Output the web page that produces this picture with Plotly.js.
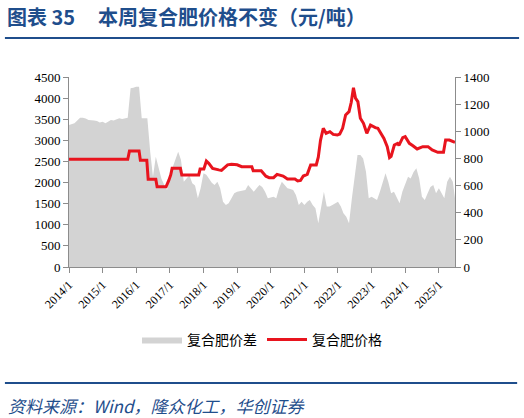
<!DOCTYPE html>
<html>
<head>
<meta charset="utf-8">
<script src="https://cdn.plot.ly/plotly-3.0.1.min.js"></script>
<style>html,body{margin:0;padding:0;background:#fff;}#chart{width:524px;height:418px;}</style>
</head>
<body>
<div id="chart"></div>
<script>
// 复合肥价差 (right axis), monthly
const spreadDates = ["2014-01","2014-02","2014-03","2014-04","2014-05","2014-06","2014-07","2014-08","2014-09","2014-10","2014-11","2014-12",
"2015-01","2015-02","2015-03","2015-04","2015-05","2015-06","2015-07","2015-08","2015-09","2015-10","2015-11","2015-12",
"2016-01","2016-02","2016-03","2016-04","2016-05","2016-06","2016-07","2016-08","2016-09","2016-10","2016-11","2016-12",
"2017-01","2017-02","2017-03","2017-04","2017-05","2017-06","2017-07","2017-08","2017-09","2017-10","2017-11","2017-12",
"2018-01","2018-02","2018-03","2018-04","2018-05","2018-06","2018-07","2018-08","2018-09","2018-10","2018-11","2018-12",
"2019-01","2019-02","2019-03","2019-04","2019-05","2019-06","2019-07","2019-08","2019-09","2019-10","2019-11","2019-12",
"2020-01","2020-02","2020-03","2020-04","2020-05","2020-06","2020-07","2020-08","2020-09","2020-10","2020-11","2020-12",
"2021-01","2021-02","2021-03","2021-04","2021-05","2021-06","2021-07","2021-08","2021-09","2021-10","2021-11","2021-12",
"2022-01","2022-02","2022-03","2022-04","2022-05","2022-06","2022-07","2022-08","2022-09","2022-10","2022-11","2022-12",
"2023-01","2023-02","2023-03","2023-04","2023-05","2023-06","2023-07","2023-08","2023-09","2023-10","2023-11","2023-12",
"2024-01","2024-02","2024-03","2024-04","2024-05","2024-06","2024-07","2024-08","2024-09","2024-10","2024-11","2024-12",
"2025-01","2025-02","2025-03","2025-04","2025-05","2025-06","2025-06-25"];
const spreadValues = [1046,1050,1059,1080,1100,1100,1095,1083,1083,1080,1075,1065,
1070,1059,1070,1083,1080,1090,1096,1090,1096,1100,1317,1320,
1329,1329,1096,1096,1096,850,665,813,740,650,604,567,
678,740,780,850,790,629,653,676,617,600,506,580,
690,680,653,620,604,629,580,481,457,470,506,543,
555,560,560,567,604,580,555,580,604,590,555,506,
512,518,506,580,629,604,580,575,567,530,457,481,
457,480,493,457,432,322,445,555,445,445,457,470,
481,445,396,371,322,506,678,825,825,800,702,506,
518,505,493,555,629,690,629,543,555,518,469,555,
610,665,653,700,727,653,518,493,543,590,604,543,
580,543,506,629,665,629,506];

// 复合肥价格 (left axis)
const priceDates = ["2014-01-01","2015-10-01","2015-10-20","2016-02-01","2016-02-15","2016-04-25","2016-05-10","2016-08-01","2016-08-15","2016-11-20","2016-12-20","2017-01-10","2017-01-25","2017-04-25","2017-05-10","2017-11-10","2017-11-25","2018-01-05","2018-02-01","2018-03-01","2018-04-10","2018-05-15","2018-06-15","2018-07-15","2018-08-15","2018-09-20","2018-11-01","2019-01-01","2019-02-20","2019-06-10","2019-06-25","2019-09-20","2019-11-10","2019-12-15","2020-02-01","2020-03-10","2020-05-15","2020-07-01","2020-09-20","2020-10-20","2020-11-20","2020-12-20","2021-02-01","2021-03-10","2021-05-10","2021-06-01","2021-06-25","2021-07-25","2021-08-25","2021-10-05","2021-11-10","2021-12-25","2022-01-20","2022-02-20","2022-03-25","2022-05-01","2022-05-25","2022-06-18","2022-07-10","2022-08-05","2022-09-01","2022-10-05","2022-11-10","2022-12-20","2023-02-10","2023-03-10","2023-05-15","2023-06-20","2023-07-15","2023-08-01","2023-09-05","2023-10-10","2023-10-25","2023-12-05","2024-01-01","2024-02-15","2024-03-25","2024-05-10","2024-07-10","2024-09-05","2024-10-20","2024-12-20","2025-02-20","2025-03-15","2025-04-25","2025-06-25"];
const priceValues = [2550,2550,2750,2750,2530,2530,2080,2080,1900,1900,2050,2180,2337,2337,2180,2180,2320,2320,2510,2450,2337,2310,2300,2290,2340,2420,2432,2420,2376,2376,2281,2281,2150,2116,2116,2195,2155,2084,2084,2037,2050,2155,2195,2416,2416,2600,3000,3284,3166,3205,3140,3126,3150,3284,3600,3679,3900,4247,4000,3916,3522,3403,3166,3363,3300,3284,3047,2850,2590,2620,2890,2929,2880,3063,3087,2929,2873,2795,2850,2850,2771,2716,2716,3008,3008,2953];

const xTickVals = ["2014-01-01","2015-01-01","2016-01-01","2017-01-01","2018-01-01","2019-01-01","2020-01-01","2021-01-01","2022-01-01","2023-01-01","2024-01-01","2025-01-01"];
const xTickText = ["2014/1","2015/1","2016/1","2017/1","2018/1","2019/1","2020/1","2021/1","2022/1","2023/1","2024/1","2025/1"];

const seriesNames = ["复合肥价差","复合肥价格"];
const titleLabel = "图表 35";
const titleText = "本周复合肥价格不变（元/吨）";
const sourceText = "资料来源：Wind，隆众化工，华创证券";

const blue = "#1f4e8c";
const axisGray = "#8c8c8c";
const serif = "'Liberation Serif','Times New Roman',serif";
const cjk = "'Noto Sans CJK SC','Liberation Serif',serif";

const traces = [
  {x: spreadDates, y: spreadValues, name: seriesNames[0], type: "scatter", mode: "lines",
   fill: "tozeroy", fillcolor: "#d3d3d3", line: {width: 0, color: "#d3d3d3"}, yaxis: "y"},
  {x: priceDates, y: priceValues, name: seriesNames[1], type: "scatter", mode: "lines",
   line: {width: 3, color: "#e8141e"}, yaxis: "y2"}
];

const axisCommon = {showgrid: false, zeroline: false, showline: true, linecolor: axisGray, linewidth: 1,
  ticks: "outside", ticklen: 5, tickcolor: axisGray, tickfont: {family: serif, size: 13, color: "#000"}};

const layout = {
  width: 524, height: 418,
  margin: {l: 69, r: 69, t: 77, b: 151},
  paper_bgcolor: "#fff", plot_bgcolor: "#fff",
  showlegend: true,
  legend: {orientation: "h", x: 0.5, xanchor: "center", y: -0.384, yanchor: "middle",
    font: {family: cjk, size: 14, color: "#000"}, itemwidth: 40, traceorder: "normal"},
  xaxis: Object.assign({}, axisCommon, {type: "date", range: ["2014-01-01", "2025-06-25"],
    tickvals: xTickVals, ticktext: xTickText, tickangle: -45,
    tickfont: {family: serif, size: 12, color: "#000"}}),
  yaxis: Object.assign({}, axisCommon, {side: "right", range: [0, 1400], dtick: 200, tick0: 0}),
  yaxis2: Object.assign({}, axisCommon, {side: "left", overlaying: "y", range: [0, 4500], dtick: 500, tick0: 0}),
  shapes: [
    {type: "line", xref: "paper", yref: "paper", x0: -0.166, x1: 1.166, y0: 1.205, y1: 1.205, line: {color: blue, width: 2}},
    {type: "line", xref: "paper", yref: "paper", x0: -0.166, x1: 1.161, y0: -0.61, y1: -0.61, line: {color: blue, width: 2}}
  ],
  annotations: [
    {xref: "paper", yref: "paper", x: -0.165, y: 1.318, xanchor: "left", yanchor: "middle", showarrow: false,
     text: "<b>" + titleLabel + "</b>", font: {family: cjk, size: 20, color: blue}},
    {xref: "paper", yref: "paper", x: 0.07, y: 1.318, xanchor: "left", yanchor: "middle", showarrow: false,
     text: "<b>" + titleText + "</b>", font: {family: cjk, size: 20, color: blue}},
    {xref: "paper", yref: "paper", x: -0.163, y: -0.727, xanchor: "left", yanchor: "middle", showarrow: false,
     text: "<i>" + sourceText + "</i>", font: {family: cjk, size: 17, color: blue}}
  ]
};

Plotly.newPlot("chart", traces, layout, {staticPlot: true, displayModeBar: false});
</script>
</body>
</html>
